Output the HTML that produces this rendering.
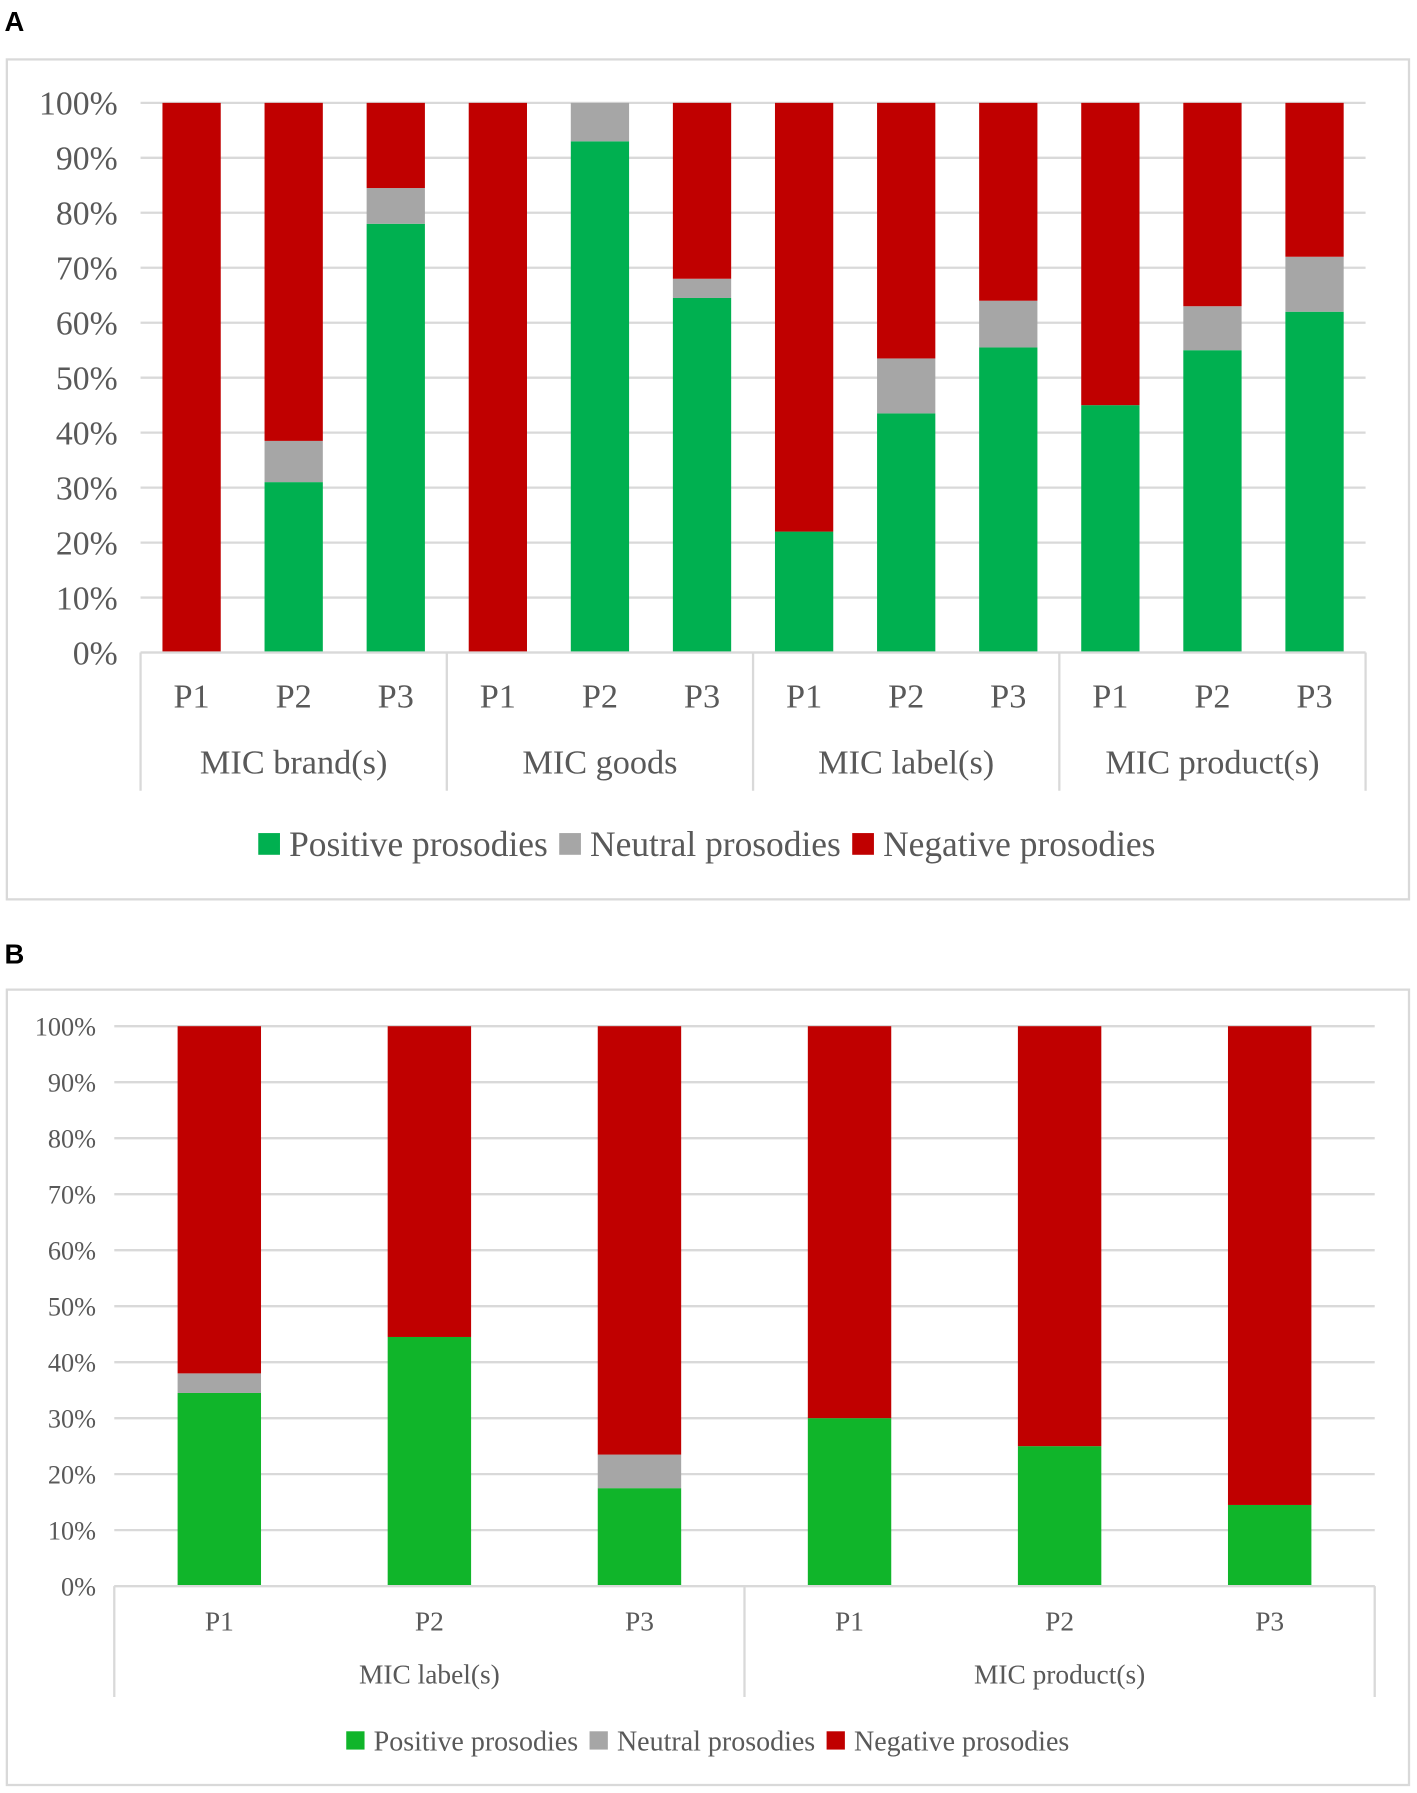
<!DOCTYPE html>
<html><head><meta charset="utf-8"><style>
html,body{margin:0;padding:0;background:#fff;}
svg{display:block;}
text{font-family:"Liberation Serif",serif;fill:#595959;}
.lbl{font-family:"Liberation Sans",sans-serif;font-weight:bold;fill:#000;}
</style></head><body>
<svg id="svg" width="1417" height="1793" viewBox="0 0 1240 1569" preserveAspectRatio="none">
<text class="lbl" x="4" y="27" font-size="24">A</text>
<rect x="6" y="52" width="1227" height="735" fill="#fff" stroke="#d9d9d9" stroke-width="2"/>
<text class="lbl" x="4" y="843" font-size="24">B</text>
<rect x="6" y="866" width="1227" height="696" fill="#fff" stroke="#d9d9d9" stroke-width="2"/>
<g id="ga"></g>
<g id="gb"></g>
</svg>
<script>
const groupsA = ["MIC brand(s)","MIC goods","MIC label(s)","MIC product(s)"];
const periodsA = ["P1","P2","P3"];
const positiveA = [0,31,78, 0,93,64.5, 22,43.5,55.5, 45,55,62];
const neutralA  = [0,7.5,6.5, 0,7,3.5, 0,10,8.5, 0,8,10];
const groupsB = ["MIC label(s)","MIC product(s)"];
const periodsB = ["P1","P2","P3"];
const positiveB = [34.5,44.5,17.5, 30,25,14.5];
const neutralB  = [3.5,0,6, 0,0,0];
const ticks = ["0%","10%","20%","30%","40%","50%","60%","70%","80%","90%","100%"];

const NS="http://www.w3.org/2000/svg";
function mk(parent,tag,attrs,txt){const e=document.createElementNS(NS,tag);for(const k in attrs)e.setAttribute(k,attrs[k]);if(txt!==undefined)e.textContent=txt;parent.appendChild(e);return e;}

function draw(g,cfg,groups,periods,pos,neu,green,prefix){
  const y=v=>cfg.y0-(cfg.y0-cfg.y100)*v/100;
  const n=pos.length, cw=(cfg.x1-cfg.x0)/n;
  const x=i=>cfg.x0+cw*(i+0.5);
  ticks.forEach((t,i)=>{
    const v=i*10;
    const l=mk(g,'line',{x1:cfg.x0,x2:cfg.x1,y1:y(v),y2:y(v),stroke:'#d9d9d9','stroke-width':2});
    
    
    const tx=mk(g,'text',{x:cfg.x0-cfg.tickGap,y:y(v)+cfg.tf*0.35,'font-size':cfg.tf,'text-anchor':'end'},t);
    
    
  });
  pos.forEach((p,i)=>{
    const nu=neu[i], bw=cfg.bw, bx=x(i)-bw/2;
    const r1=mk(g,'rect',{x:bx,y:y(p),width:bw,height:y(0)-y(p),fill:green});
    
    
    const r2=mk(g,'rect',{x:bx,y:y(p+nu),width:bw,height:y(p)-y(p+nu),fill:'#a6a6a6'});
    
    
    const r3=mk(g,'rect',{x:bx,y:y(100),width:bw,height:y(p+nu)-y(100),fill:'#c00000'});
    
    
    const pl=mk(g,'text',{x:x(i),y:cfg.pY,'font-size':cfg.pf,'text-anchor':'middle'},periods[i%periods.length]);
    
    
  });
  const per=periods.length;
  for(let k=0;k<=groups.length;k++){
    const sx=cfg.x0+cw*per*k;
    const l=mk(g,'line',{x1:sx,x2:sx,y1:cfg.y0,y2:cfg.sepEnd,stroke:'#d9d9d9','stroke-width':2});
    
    
  }
  groups.forEach((gn,k)=>{
    const t=mk(g,'text',{x:cfg.x0+cw*per*(k+0.5),y:cfg.gY,'font-size':cfg.pf,'text-anchor':'middle'},gn);
    
    
  });
  const ax=mk(g,'line',{x1:cfg.x0,x2:cfg.x1,y1:cfg.y0,y2:cfg.y0,stroke:'#d9d9d9','stroke-width':2});
  
  
  const leg=[['Positive prosodies',green],['Neutral prosodies','#a6a6a6'],['Negative prosodies','#c00000']];
  let lx=cfg.legX;
  leg.forEach((L,k)=>{
    const s=mk(g,'rect',{x:lx,y:cfg.legY-cfg.sw-1,width:cfg.sw,height:cfg.sw,fill:L[1]});
    
    
    const t=mk(g,'text',{x:lx+cfg.sw+8,y:cfg.legY,'font-size':cfg.lf},L[0]);
    
    
    lx+=cfg.sw+8+t.getComputedTextLength()+10;
  });
}
draw(document.getElementById('ga'),{x0:123,x1:1195,y0:571,y100:90,bw:51,tf:29.5,tickGap:20,pf:30,pY:619,gY:677,sepEnd:692,legX:226,legY:749,lf:31,sw:19},groupsA,periodsA,positiveA,neutralA,'#00b050','a-');
draw(document.getElementById('gb'),{x0:100,x1:1203,y0:1388,y100:898,bw:73,tf:23,tickGap:16,pf:24,pY:1427,gY:1473,sepEnd:1485,legX:303,legY:1532,lf:24.5,sw:16},groupsB,periodsB,positiveB,neutralB,'#10b52a','b-');
</script>
</body></html>
